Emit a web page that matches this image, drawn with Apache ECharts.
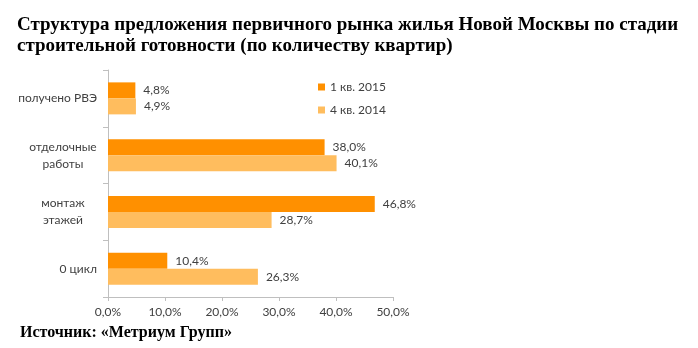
<!DOCTYPE html>
<html>
<head>
<meta charset="utf-8">
<script src="https://cdn.jsdelivr.net/npm/echarts@6/dist/echarts.min.js"></script>
<style>
html,body{margin:0;padding:0;background:#fff;}
#c{width:698px;height:348px;}
</style>
</head>
<body>
<div id="c"></div>
<script>
const categories = ["получено РВЭ", "отделочные\nработы", "монтаж\nэтажей", "0 цикл"];
const seriesNames = ["1 кв. 2015", "4 кв. 2014"];
const q1_2015 = [4.8, 38.0, 46.8, 10.4];
const q4_2014 = [4.9, 40.1, 28.7, 26.3];
const xTicks = [0, 10, 20, 30, 40, 50];

const titleText = "Структура предложения первичного рынка жилья Новой Москвы по стадии\nстроительной готовности (по количеству квартир)";
const sourceText = "Источник: «Метриум Групп»";

const fmt = v => v.toFixed(1).replace('.', ',') + '%';
const font = 'Lato, "Open Sans", sans-serif';
const labelColor = '#404040';

const chart = echarts.init(document.getElementById('c'), null, {renderer: 'canvas'});
chart.setOption({
  animation: false,
  backgroundColor: '#fff',
  title: [{
    text: titleText,
    left: 12, top: 10,
    textStyle: {fontFamily: '"Liberation Serif", "Times New Roman", serif', fontWeight: 'bold', fontSize: 19, lineHeight: 21, color: '#000'}
  }, {
    text: sourceText,
    left: 15, top: 320,
    textStyle: {fontFamily: '"Liberation Serif", "Times New Roman", serif', fontWeight: 'bold', fontSize: 16, color: '#000'}
  }],
  legend: {
    orient: 'vertical',
    left: 313, top: 76,
    itemWidth: 7, itemHeight: 7,
    itemGap: 11,
    icon: 'rect',
    textStyle: {fontFamily: font, fontSize: 12, color: labelColor},
    data: seriesNames
  },
  grid: {left: 108, top: 70, width: 285, height: 227, containLabel: false},
  xAxis: {
    type: 'value', min: 0, max: 50, interval: 10,
    axisLine: {show: true, lineStyle: {color: '#bfbfbf'}},
    axisTick: {show: true, length: 4, lineStyle: {color: '#bfbfbf'}},
    splitLine: {show: false},
    axisLabel: {fontFamily: font, fontSize: 12, color: labelColor, margin: 9,
      formatter: v => xTicks.includes(v) ? fmt(v) : ''}
  },
  yAxis: {
    type: 'category', inverse: true, data: categories,
    axisLine: {show: true, lineStyle: {color: '#bfbfbf'}},
    axisTick: {show: true, length: 5, lineStyle: {color: '#bfbfbf'}},
    axisLabel: {fontFamily: font, fontSize: 12, color: labelColor, margin: 11,
      formatter: v => v.indexOf('\n') >= 0 ? v.split('\n').map(s => '{c|' + s + '}').join('\n') : v,
      rich: {c: {width: 68, align: 'center', fontFamily: font, fontSize: 12, color: labelColor, lineHeight: 17}}}
  },
  series: [{
    name: seriesNames[0], type: 'bar', data: q1_2015, barWidth: 16, barGap: '0%',
    itemStyle: {color: '#FF9000'},
    label: {show: true, position: 'right', distance: 8, fontFamily: font, fontSize: 12, color: labelColor, formatter: p => fmt(p.value)}
  }, {
    name: seriesNames[1], type: 'bar', data: q4_2014, barWidth: 16, barGap: '0%',
    itemStyle: {color: '#FFBD5E'},
    label: {show: true, position: 'right', distance: 8, fontFamily: font, fontSize: 12, color: labelColor, formatter: p => fmt(p.value)}
  }]
});
</script>
</body>
</html>
